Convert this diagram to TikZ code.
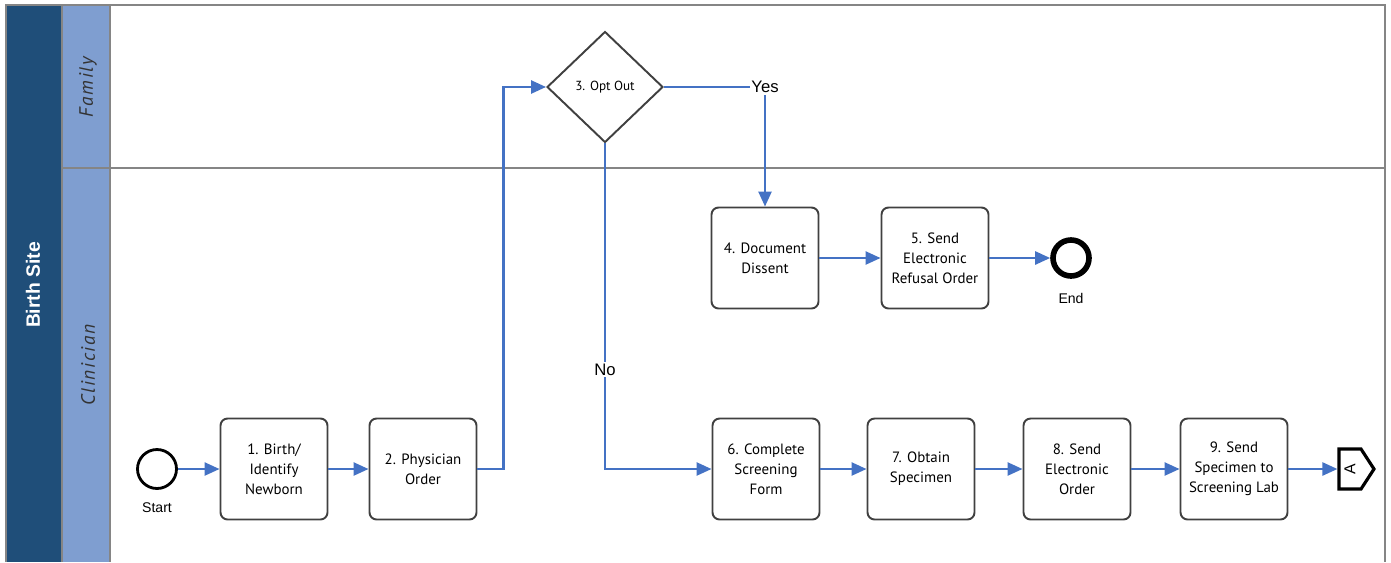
\documentclass[tikz,border=0pt]{standalone}
\usepackage{fontspec}
\setmainfont{Liberation Sans}
\newfontfamily\taskfont{PT Sans}
\newfontfamily\lanefont[LetterSpace=8]{PT Sans}
\usetikzlibrary{arrows.meta, positioning, shapes.geometric, shapes.symbols}
\definecolor{poolblue}{HTML}{1F4E79}
\definecolor{laneblue}{HTML}{7F9ED0}
\definecolor{flowblue}{HTML}{4472C4}
\definecolor{framegray}{HTML}{858585}
\definecolor{boxink}{HTML}{404040}
\definecolor{lanetext}{HTML}{333333}
\tikzset{
  task/.style={draw=boxink, fill=white, rounded corners=4pt, align=center,
    minimum width=2.14cm, minimum height=2.02cm, inner sep=2pt,
    font=\taskfont\fontsize{8.5}{11.5}\selectfont, line width=1.1pt},
  gate/.style={diamond, draw=boxink, fill=white, minimum width=2.32cm, minimum height=2.22cm,
    inner sep=0pt, font=\taskfont\fontsize{7.5}{9}\selectfont, line width=1.1pt},
  startev/.style={circle, draw=black, line width=1.6pt, minimum size=0.78cm, inner sep=0pt},
  endev/.style={circle, draw=black, line width=3.2pt, minimum size=0.72cm, inner sep=0pt},
  offpage/.style={signal, signal to=east, signal pointer angle=114, draw=black, line width=1.8pt,
    minimum width=0.7cm, minimum height=0.8cm, inner sep=0pt, font=\fontsize{9}{10}\selectfont},
  flow/.style={-{Triangle[length=3mm,width=2.6mm]}, draw=flowblue, line width=1.4pt},
  evlabel/.style={font=\fontsize{8}{9}\selectfont, inner sep=1pt},
  flowlabel/.style={fill=white, font=\fontsize{9.5}{11}\selectfont, inner sep=1pt},
  lanelabel/.style={rotate=90, font=\lanefont\itshape\fontsize{11}{12}\selectfont, text=lanetext},
  lanerule/.style={draw=framegray, line width=1.1pt}
}
\begin{document}
\begin{tikzpicture}[x=0.02cm, y=-0.02cm]
\useasboundingbox (0,0) rectangle (1391,562);
% pool and lanes
\fill[poolblue] (6,5) rectangle (62,562);
\fill[laneblue] (63,5) rectangle (110,562);
\draw[lanerule] (6,562) |- (1385,5) -- (1385,562);
\draw[lanerule] (62,5) -- (62,562); \draw[lanerule] (110,5) -- (110,562);
\draw[lanerule] (63,168) -- (1385,168);
\node[rotate=90, text=white, font=\bfseries\fontsize{11}{13}\selectfont] (poollbl) at (33,285) {Birth Site};
\node[lanelabel] (famlbl) at (88,87) {Family};
\node[lanelabel] (clinlbl) at (88,365) {Clinician};
% flow objects
\node[startev] (start) at (157,469) {};
\node[evlabel, below=6pt of start] (startlbl) {Start};
\node[task] (birth) at (274,469) {1. Birth/\\Identify\\Newborn};
\node[task] (order) at (423,469) {2. Physician\\Order};
\node[gate] (optout) at (605,87) {3. Opt Out};
\node[task] (dissent) at (765,258) {4. Document\\Dissent};
\node[task] (refusal) at (935,258) {5. Send\\Electronic\\Refusal Order};
\node[endev] (end) at (1071,258) {};
\node[evlabel, below=7pt of end] (endlbl) {End};
\node[task] (form) at (766,469) {6. Complete\\Screening\\Form};
\node[task] (specimen) at (921,469) {7. Obtain\\Specimen};
\node[task] (eorder) at (1077,469) {8. Send\\Electronic\\Order};
\node[task] (shiplab) at (1234,469) {9. Send\\Specimen to\\Screening Lab};
\node[offpage] (pageA) at (1350,469) {\rotatebox{90}{A}};
% connectors
\draw[flow] (start) -- (birth); \draw[flow] (birth) -- (order);
\draw[flow] (order.east) -- ++(26,0) |- (optout.west);
\draw[flow] (optout.east) -| (dissent.north);
\draw[flow] (optout.south) |- (form.west) node[flowlabel, pos=0.347] (nolbl) {No};
\draw[flow] (dissent) -- (refusal); \draw[flow] (refusal) -- (end);
\draw[flow] (form) -- (specimen); \draw[flow] (specimen) -- (eorder);
\draw[flow] (eorder) -- (shiplab); \draw[flow] (shiplab.east) -- (pageA.west);
\node[flowlabel] (yeslbl) at (765,87) {Yes};
\end{tikzpicture}
\end{document}
